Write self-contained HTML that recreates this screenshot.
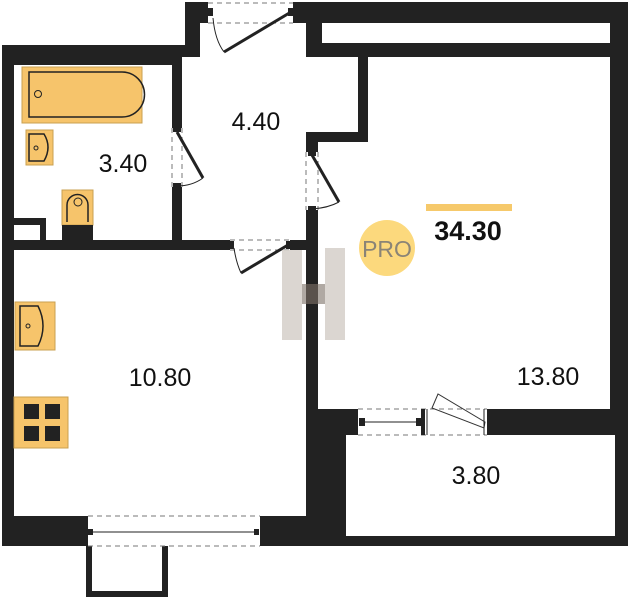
<!DOCTYPE html>
<html><head><meta charset="utf-8"><style>
html,body{margin:0;padding:0;background:#fff;}
svg{display:block;}
text{font-family:"Liberation Sans",sans-serif;}
</style></head><body>
<svg width="628" height="600" viewBox="0 0 628 600" xmlns="http://www.w3.org/2000/svg">
<polygon points="2,45 185,45 185,2 628,2 628,546 2,546" fill="#222"/>
<rect x="86" y="540" width="82" height="57" fill="#222"/>
<rect x="92" y="540" width="70" height="51" fill="#fff"/>
<rect x="14" y="65" width="158" height="175" fill="#fff"/>
<polygon points="200,23 306,23 306,57 358,57 358,132 306,132 306,240 182,240 182,57 200,57" fill="#fff"/>
<rect x="322" y="23" width="288" height="20" fill="#fff"/>
<polygon points="368,57 610,57 610,409 318,409 318,142 368,142" fill="#fff"/>
<rect x="14" y="250" width="292" height="266" fill="#fff"/>
<rect x="346" y="435" width="269" height="101" fill="#fff"/>
<rect x="14" y="218" width="32" height="22" fill="#222"/>
<rect x="14" y="225" width="26" height="15" fill="#fff"/>
<rect x="208" y="2" width="85" height="21" fill="#fff"/>
<rect x="172" y="128" width="10" height="59" fill="#fff"/>
<rect x="306" y="152" width="12" height="58" fill="#fff"/>
<rect x="230" y="240" width="60" height="10" fill="#fff"/>
<rect x="88" y="516" width="172" height="30" fill="#fff"/>
<rect x="358" y="409" width="129" height="26" fill="#fff"/>
<g stroke="#777" stroke-width="1" stroke-dasharray="5,4" fill="none">
<line x1="208" y1="3" x2="293" y2="3"/><line x1="208" y1="23" x2="293" y2="23"/>
<line x1="172" y1="128" x2="172" y2="187"/><line x1="182" y1="128" x2="182" y2="187"/>
<line x1="306" y1="152" x2="306" y2="210"/><line x1="318" y1="152" x2="318" y2="210"/>
<line x1="230" y1="240" x2="290" y2="240"/><line x1="230" y1="250" x2="290" y2="250"/>
<line x1="88" y1="516" x2="260" y2="516"/><line x1="88" y1="546" x2="260" y2="546"/>
<line x1="358" y1="409" x2="487" y2="409"/><line x1="358" y1="435" x2="487" y2="435"/>
</g>
<g stroke="#222" stroke-width="3">
<line x1="291" y1="12" x2="224" y2="52"/>
<line x1="177" y1="132" x2="203" y2="178"/>
<line x1="312" y1="155" x2="339" y2="202"/>
<line x1="288" y1="245" x2="241" y2="273"/>
</g>
<g stroke="#222" stroke-width="1" fill="none">
<path d="M213,18 Q215,40 224,52"/>
<path d="M177,186 Q192,186 203,178"/>
<path d="M312,209 Q328,208 339,202"/>
<path d="M234,248 Q236,262 241,273"/>
<line x1="92" y1="532" x2="256" y2="532"/>
<line x1="364" y1="422" x2="420" y2="422"/>
<path d="M432,408 L438,394 L485,422 L484,428 Z" stroke="#333"/>
<line x1="484" y1="409" x2="484" y2="435"/>
<line x1="427" y1="409" x2="427" y2="435"/>
</g>
<g fill="#222">
<rect x="208" y="8" width="5" height="8"/><rect x="288" y="8" width="5" height="8"/>
<rect x="173" y="128" width="8" height="4"/><rect x="173" y="183" width="8" height="4"/>
<rect x="308" y="152" width="8" height="4"/><rect x="308" y="206" width="8" height="4"/>
<rect x="230" y="241" width="4" height="8"/><rect x="286" y="241" width="4" height="8"/>
<rect x="88" y="529" width="5" height="6"/><rect x="254" y="529" width="5" height="6"/>
<rect x="359" y="418" width="6" height="8"/><rect x="416" y="418" width="6" height="8"/>
<rect x="421" y="409" width="4" height="26"/>
</g>
<rect x="22" y="67" width="120" height="56" fill="#f6c46b" stroke="#c9a050"/>
<path d="M29,72 H122 A16,16 0 0 1 122,117 H29 Z" fill="none" stroke="#222" stroke-width="1.5"/>
<circle cx="38" cy="94" r="3.5" fill="none" stroke="#222"/>
<rect x="26" y="130" width="27" height="35" fill="#f6c46b" stroke="#c9a050"/>
<path d="M29,134 H44 Q52,147 44,161 H29 Z" fill="none" stroke="#222" stroke-width="1.5"/>
<circle cx="36" cy="148" r="2" fill="none" stroke="#222"/>
<rect x="62" y="190" width="31" height="35" fill="#f6c46b" stroke="#c9a050"/>
<path d="M67,222 V205 A10,10 0 0 1 88,205 V222" fill="none" stroke="#222" stroke-width="1.5"/>
<circle cx="78" cy="202" r="4" fill="none" stroke="#222"/>
<rect x="62" y="225" width="31" height="15" fill="#222"/>
<rect x="15" y="302" width="40" height="48" fill="#f6c46b" stroke="#c9a050"/>
<path d="M20,306 H38 Q48,326 38,346 H20 Z" fill="none" stroke="#222" stroke-width="1.5"/>
<circle cx="28" cy="326" r="2" fill="none" stroke="#222"/>
<rect x="14" y="397" width="54" height="51" fill="#f6c46b" stroke="#c9a050"/>
<g fill="#222"><rect x="24" y="404" width="15" height="15"/><rect x="45" y="404" width="15" height="15"/><rect x="24" y="426" width="15" height="15"/><rect x="45" y="426" width="15" height="15"/></g>
<g fill="#d8d2cd" opacity="0.9">
<rect x="282" y="250" width="20" height="90"/>
<rect x="325" y="248" width="20" height="92"/>
<rect x="302" y="284" width="23" height="20" fill="#a8a09a"/>
</g>
<rect x="306" y="250" width="12" height="90" fill="#222"/>
<rect x="306" y="284" width="12" height="20" fill="#5a524c"/>
<circle cx="387" cy="248" r="28" fill="#fcd97d"/>
<text x="387" y="257" font-size="23" fill="#8a8476" text-anchor="middle">PRO</text>
<rect x="426" y="204" width="86" height="7" fill="#f6c96b"/>
<text x="468" y="240" font-size="27" font-weight="bold" fill="#111" text-anchor="middle">34.30</text>
<g font-size="25" fill="#111" text-anchor="middle">
<text x="123" y="172">3.40</text>
<text x="256" y="130">4.40</text>
<text x="160" y="386">10.80</text>
<text x="548" y="385">13.80</text>
<text x="476" y="484">3.80</text>
</g>
</svg>
</body></html>
